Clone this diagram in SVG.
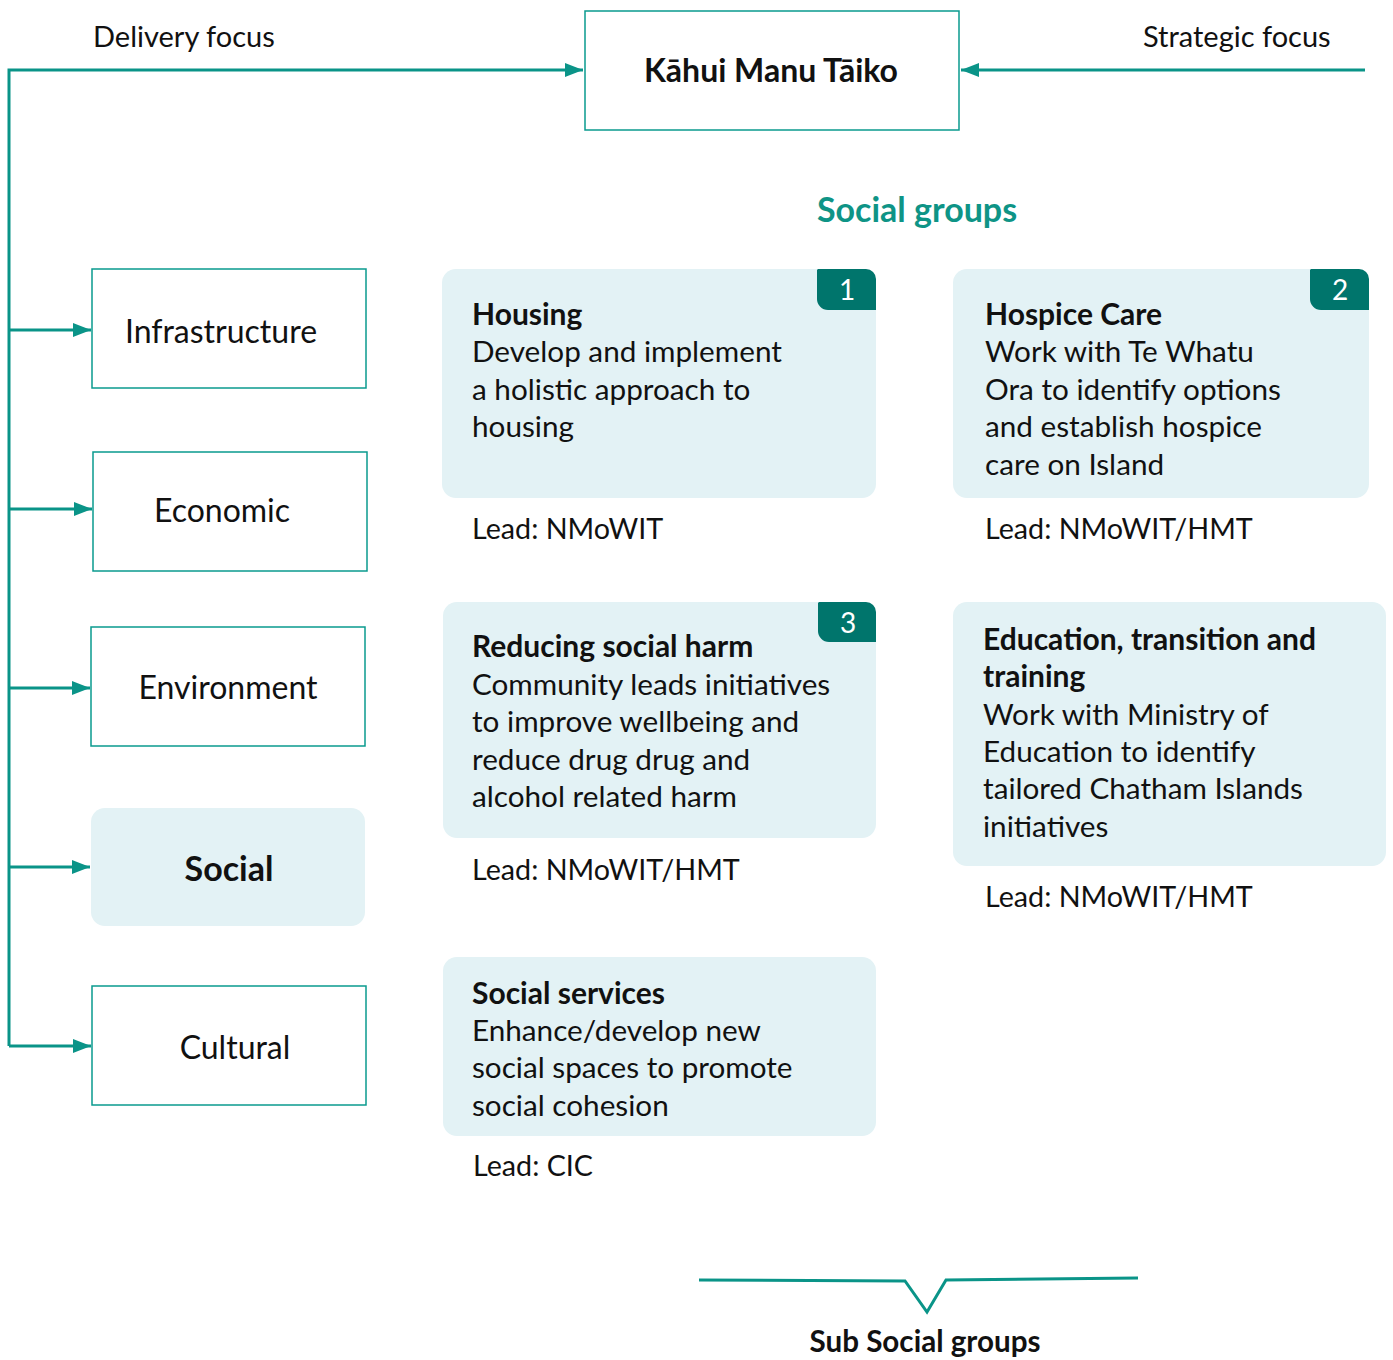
<svg xmlns="http://www.w3.org/2000/svg" width="1393" height="1360" viewBox="0 0 1393 1360">
<style>
text{font-family:Lato,"Open Sans","Liberation Sans",sans-serif;fill:#111;}
.t{font-size:29.7px;}
.lead{font-size:28.7px;}
.b{font-weight:bold;font-size:30px;}
.box{fill:#fff;stroke:#0a9a8e;stroke-width:1.5;}
.card{fill:#e3f2f5;}
.badge{fill:#00756c;}
.bn{fill:#fff;font-size:28px;text-anchor:middle;}
.ln{fill:none;stroke:#0a9488;stroke-width:3;}
.mid{text-anchor:middle;}
</style>
<defs>
<marker id="arr" viewBox="0 0 10 10" refX="10" refY="5" markerWidth="18" markerHeight="14" markerUnits="userSpaceOnUse" orient="auto" preserveAspectRatio="none">
<path d="M0,0 L10,5 L0,10 z" fill="#0a9488"/>
</marker>
</defs>
<g id="connectors">
<path class="ln" d="M9,1046 V70 H583" marker-end="url(#arr)"/>
<path class="ln" d="M1365,70 H961" marker-end="url(#arr)"/>
<path class="ln" d="M9,330 H91" marker-end="url(#arr)"/>
<path class="ln" d="M9,509 H92" marker-end="url(#arr)"/>
<path class="ln" d="M9,688 H90" marker-end="url(#arr)"/>
<path class="ln" d="M9,867 H90" marker-end="url(#arr)"/>
<path class="ln" d="M9,1046 H91" marker-end="url(#arr)"/>
<path class="ln" d="M699,1280 L905,1281 L927,1312 L946,1280 L1138,1278" stroke-width="2.5"/>
</g>
<text x="93" y="47" style="font-size:29px">Delivery focus</text>
<text x="1143" y="47" style="font-size:29px">Strategic focus</text>
<g id="kahui">
<rect class="box" x="585" y="11" width="374" height="119"/>
<text x="771" y="82" class="mid" style="font-size:32px;font-weight:bold">Kāhui Manu Tāiko</text>
</g>
<g id="infrastructure">
<rect class="box" x="92" y="269" width="274" height="119"/>
<text x="221" y="343" class="mid" style="font-size:32px">Infrastructure</text>
</g>
<g id="economic">
<rect class="box" x="93" y="452" width="274" height="119"/>
<text x="222" y="522" class="mid" style="font-size:32px">Economic</text>
</g>
<g id="environment">
<rect class="box" x="91" y="627" width="274" height="119"/>
<text x="228" y="699" class="mid" style="font-size:32px">Environment</text>
</g>
<g id="social">
<rect class="card" x="91" y="808" width="274" height="118" rx="14"/>
<text x="229" y="881" class="mid" style="font-size:34px;font-weight:bold">Social</text>
</g>
<g id="cultural">
<rect class="box" x="92" y="986" width="274" height="119"/>
<text x="235" y="1059" class="mid" style="font-size:32px">Cultural</text>
</g>
<text x="917" y="222" class="mid" style="font-size:34px;font-weight:bold;fill:#0e9486">Social groups</text>
<g id="housing">
<rect class="card" x="442" y="269" width="434" height="229" rx="14"/>
<path class="badge" d="M818,269 H866 A10,10 0 0 1 876,279 V310 H828 A11,11 0 0 1 817,299 V270 Z"/>
<text x="847" y="300" class="bn">1</text>
<text class="t"><tspan x="472" y="325" class="b">Housing</tspan><tspan x="472" y="362">Develop and implement</tspan><tspan x="472" y="400">a holistic approach to</tspan><tspan x="472" y="437">housing</tspan></text>
<text class="lead" x="472" y="539">Lead: NMoWIT</text>
</g>
<g id="hospice">
<rect class="card" x="953" y="269" width="416" height="229" rx="14"/>
<path class="badge" d="M1311,269 H1359 A10,10 0 0 1 1369,279 V310 H1321 A11,11 0 0 1 1310,299 V270 Z"/>
<text x="1340" y="300" class="bn">2</text>
<text class="t"><tspan x="985" y="325" class="b">Hospice Care</tspan><tspan x="985" y="362">Work with Te Whatu</tspan><tspan x="985" y="400">Ora to identify options</tspan><tspan x="985" y="437">and establish hospice</tspan><tspan x="985" y="475">care on Island</tspan></text>
<text class="lead" x="985" y="539">Lead: NMoWIT/HMT</text>
</g>
<g id="harm">
<rect class="card" x="443" y="602" width="433" height="236" rx="14"/>
<path class="badge" d="M819,602 H866 A10,10 0 0 1 876,612 V642 H829 A11,11 0 0 1 818,631 V603 Z"/>
<text x="848" y="633" class="bn">3</text>
<text class="t"><tspan x="472" y="657" class="b">Reducing social harm</tspan><tspan x="472" y="695">Community leads initiatives</tspan><tspan x="472" y="732">to improve wellbeing and</tspan><tspan x="472" y="770">reduce drug drug and</tspan><tspan x="472" y="807">alcohol related harm</tspan></text>
<text class="lead" x="472" y="880">Lead: NMoWIT/HMT</text>
</g>
<g id="education">
<rect class="card" x="953" y="602" width="433" height="264" rx="14"/>
<text class="t"><tspan x="983" y="650" class="b">Education, transition and</tspan><tspan x="983" y="687" class="b">training</tspan><tspan x="983" y="725">Work with Ministry of</tspan><tspan x="983" y="762">Education to identify</tspan><tspan x="983" y="799">tailored Chatham Islands</tspan><tspan x="983" y="837">initiatives</tspan></text>
<text class="lead" x="985" y="907">Lead: NMoWIT/HMT</text>
</g>
<g id="services">
<rect class="card" x="443" y="957" width="433" height="179" rx="14"/>
<text class="t"><tspan x="472" y="1004" class="b">Social services</tspan><tspan x="472" y="1041">Enhance/develop new</tspan><tspan x="472" y="1078">social spaces to promote</tspan><tspan x="472" y="1116">social cohesion</tspan></text>
<text class="lead" x="473" y="1176">Lead: CIC</text>
</g>
<text x="925" y="1352" class="mid" style="font-size:29.6px;font-weight:bold">Sub Social groups</text>
</svg>
